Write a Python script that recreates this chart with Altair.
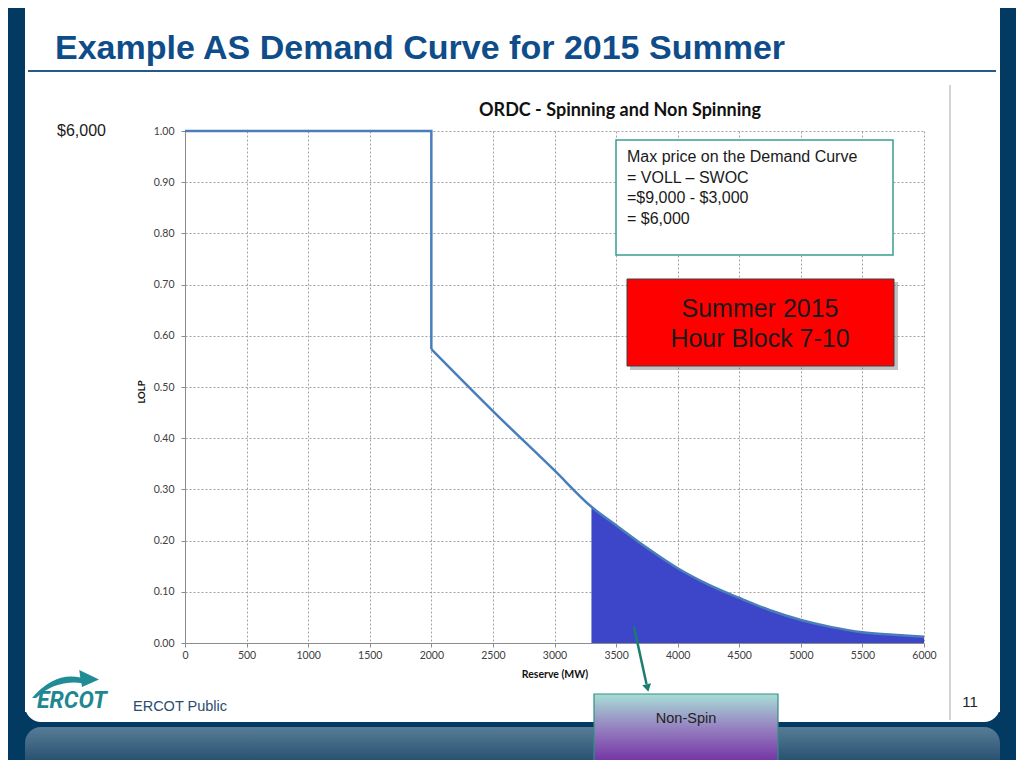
import altair as alt
import pandas as pd

# ---------------- data ----------------
reserve_mw = [0, 2000, 2000, 2500, 3000, 3300, 3500, 3750, 4000,
              4250, 4500, 4750, 5000, 5250, 5500, 5750, 6000]
lolp = [1.0, 1.0, 0.574, 0.453, 0.337, 0.266, 0.23, 0.186, 0.146,
        0.114, 0.088, 0.064, 0.045, 0.031, 0.021, 0.016, 0.012]
non_spin_start = 3300
x_ticks = [0, 500, 1000, 1500, 2000, 2500, 3000, 3500, 4000, 4500, 5000, 5500, 6000]
y_ticks = [0.0, 0.1, 0.2, 0.3, 0.4, 0.5, 0.6, 0.7, 0.8, 0.9, 1.0]

slide_title = "Example AS Demand Curve for 2015 Summer"
chart_title = "ORDC - Spinning and Non Spinning"
x_title = "Reserve (MW)"
y_title = "LOLP"
max_price_label = "$6,000"
note_lines = ["Max price on the Demand Curve", "= VOLL \u2013 SWOC", "=$9,000 - $3,000", "= $6,000"]
block_lines = ["Summer 2015", "Hour Block 7-10"]
arrow_label = "Non-Spin"
footer_left = "ERCOT Public"
page_number = "11"
logo_text = "ERCOT"

# ---------------- layout helpers ----------------
W, H = 739, 512
OX, OY = 185, 131  # page position of the plot origin


def px(v):
    return v - OX


def py(v):
    return v - OY


one = alt.Data(values=[{"k": 0}])
SANS = "Liberation Sans"
CAL = "Lato"


def box(x1, x2, y1, y2, **kw):
    return alt.Chart(one).mark_rect(**kw).encode(
        x=alt.value(px(x1)), x2=alt.value(px(x2)),
        y=alt.value(py(y1)), y2=alt.value(py(y2)))


def label(txt, x, y, **kw):
    return alt.Chart(one).mark_text(text=txt, **kw).encode(
        x=alt.value(px(x)), y=alt.value(py(y)))


navy = "#033a62"
layers = []
# slide frame
layers.append(box(-10, 25, -10, 800, color=navy))
layers.append(box(1000, 1040, -10, 800, color=navy))
layers.append(box(-10, 1040, 712, 800, color=navy))
layers.append(box(25, 1000, 684, 722, color="white", cornerRadius=16))
band = alt.Gradient(gradient="linear", x1=0, x2=0, y1=0, y2=1, stops=[
    alt.GradientStop(color="#587c97", offset=0),
    alt.GradientStop(color="#244e6e", offset=0.5),
    alt.GradientStop(color="#0b3859", offset=1)])
layers.append(box(25, 1000, 727, 800, color=band, cornerRadius=16))

# slide title
layers.append(label(slide_title, 55, 59, align="left", baseline="alphabetic",
                    font=SANS, fontSize=34, fontWeight="bold", color="#0e4d8a"))
layers.append(alt.Chart(one).mark_rule(color="#1f5b8c", strokeWidth=2).encode(
    x=alt.value(px(28)), x2=alt.value(px(996)), y=alt.value(py(71))))
layers.append(alt.Chart(one).mark_rule(color="#a6a6a6", strokeWidth=1).encode(
    x=alt.value(px(950)), y=alt.value(py(85)), y2=alt.value(py(720))))

# ---------------- chart ----------------
df = pd.DataFrame({"reserve": reserve_mw, "lolp": lolp, "idx": list(range(len(lolp)))})

X = alt.X("reserve:Q", scale=alt.Scale(domain=[0, 6000], nice=False),
          axis=alt.Axis(values=x_ticks, title=None, labelFlush=False, labelOverlap=False,
                        format="d", labelPadding=3))
Y = alt.Y("lolp:Q", scale=alt.Scale(domain=[0, 1], nice=False), stack=None,
          axis=alt.Axis(values=y_ticks, title=None, format=".2f", labelPadding=7,
                        labelOverlap=False))

area = alt.Chart(df).transform_filter(alt.datum.reserve >= non_spin_start).mark_area(
    color="#3d45c8", interpolate="monotone").encode(x=X, y=Y)
step = alt.Chart(df).transform_filter(alt.datum.idx <= 2).mark_line(
    color="#4a7ebb", strokeWidth=2.5).encode(x=X, y=Y, order="idx:Q")
curve = alt.Chart(df).transform_filter(alt.datum.idx >= 2).mark_line(
    color="#4a7ebb", strokeWidth=2.5, interpolate="monotone").encode(x=X, y=Y, order="idx:Q")
layers += [area, step, curve]

layers.append(label(chart_title, 620, 116, align="center", baseline="alphabetic",
                    font=CAL, fontSize=18, fontWeight="bold", color="#111111"))
layers.append(label(y_title, 141.5, 392, align="center", baseline="middle", angle=270,
                    font=CAL, fontSize=9.5, fontWeight="bold", color="#111111"))
layers.append(label(x_title, 555, 675, align="center", baseline="middle",
                    font=CAL, fontSize=10.5, fontWeight="bold", color="#111111"))
layers.append(label(max_price_label, 57, 136, align="left", baseline="alphabetic",
                    font=SANS, fontSize=16, color="#1a1a1a"))

# note box
layers.append(box(616, 893, 140, 255, fill="white", stroke="#3a9e92", strokeWidth=1.5))
layers.append(label(note_lines, 627, 162, align="left", baseline="alphabetic", lineHeight=20.5,
                    font=SANS, fontSize=16, color="#1a1a1a"))

# red box
layers.append(box(630, 898, 282, 370, color="#777777", opacity=0.45))
layers.append(box(627, 894, 279, 366, fill="#ff0000", stroke="#404040", strokeWidth=1))
layers.append(label(block_lines, 760, 316.5, align="center", baseline="alphabetic", lineHeight=30,
                    font=SANS, fontSize=25, color="#1a1a1a"))

# arrow
layers.append(alt.Chart(one).mark_rule(color="#1b7d6c", strokeWidth=2.5).encode(
    x=alt.value(px(634)), x2=alt.value(px(646.5)), y=alt.value(py(627)), y2=alt.value(py(684))))
layers.append(alt.Chart(one).mark_point(shape="triangle-down", filled=True, size=80, angle=347,
                                        color="#1b7d6c", opacity=1).encode(
    x=alt.value(px(647.5)), y=alt.value(py(688))))

# Non-Spin box
ns_grad = alt.Gradient(gradient="linear", x1=0, x2=0, y1=0, y2=1, stops=[
    alt.GradientStop(color="#a8ded6", offset=0),
    alt.GradientStop(color="#9682c0", offset=0.5),
    alt.GradientStop(color="#7434a4", offset=1)])
layers.append(box(594, 778, 694, 761, fill=ns_grad, stroke="#2f8f86", strokeWidth=1.2))
layers.append(label(arrow_label, 686, 719, align="center", baseline="middle",
                    font=SANS, fontSize=14.5, color="#222222"))

# footer / logo
swoosh = ("M -0.97 0.32 Q -0.3 -0.45 0.45 -0.28 L 0.42 -0.5 L 1.0 -0.22 "
          "L 0.5 0.0 L 0.48 -0.12 Q -0.3 -0.2 -0.85 0.32 Z")
layers.append(alt.Chart(one).mark_point(shape=swoosh, filled=True, size=4624, color="#1f8c96",
                                        opacity=1, strokeWidth=0).encode(
    x=alt.value(px(65)), y=alt.value(py(687))))
layers.append(label(logo_text, 37, 708, align="left", baseline="alphabetic", font="Roboto",
                    fontSize=23, fontWeight="bold", fontStyle="italic", color="#1e8791"))
layers.append(label(footer_left, 133, 711, align="left", baseline="alphabetic",
                    font=SANS, fontSize=14.5, color="#2b4c6f"))
layers.append(label(page_number, 970, 707, align="center", baseline="alphabetic",
                    font=SANS, fontSize=15, color="#222222"))

chart = alt.layer(*layers).properties(
    width=W, height=H,
    autosize=alt.AutoSizeParams(type="none"),
    padding={"left": 177, "top": 123, "right": 92, "bottom": 117},
).configure(background="white").configure_view(strokeWidth=0).configure_axis(
    labelFont=CAL, labelFontSize=10.5, labelColor="#404040",
    domainColor="#8c8c8c", tickColor="#8c8c8c", tickSize=4,
    gridColor="#a0a0a0", gridDash=[2, 2], gridWidth=1,
)

chart.save("out.html", embed_options={"renderer": "svg", "actions": False})
